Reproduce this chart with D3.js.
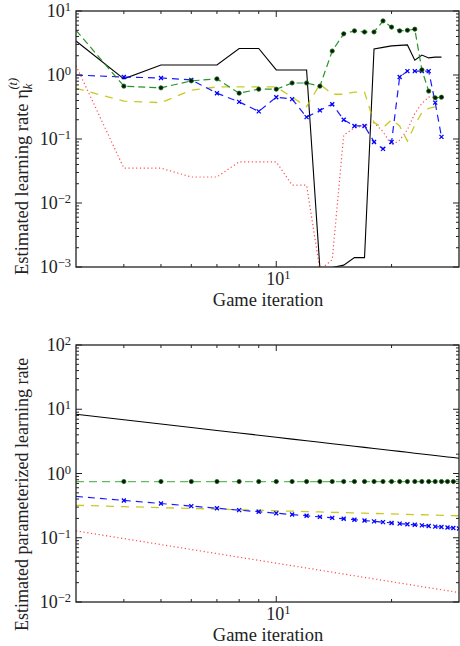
<!DOCTYPE html>
<html>
<head>
<meta charset="utf-8">
<script src="https://cdn.jsdelivr.net/npm/d3@7"></script>
<style>
  body { margin: 0; background: #fff; }
  svg { display: block; }
  text { fill: #222; }
</style>
</head>
<body>
<div id="chart"></div>
<script>
// game iterations
var iterTop = [3, 4, 5, 6, 7, 8, 9, 10, 11, 12, 13, 14, 15, 16, 17, 18, 19, 20, 21, 22, 23, 24, 25, 26, 27];
var iterBottom = [3, 4, 5, 6, 7, 8, 9, 10, 11, 12, 13, 14, 15, 16, 17, 18, 19, 20, 21, 22, 23, 24, 25, 26, 27, 28, 29, 30];

// top panel: estimated learning rate per iteration
var topBlack  = [3.4, 0.87, 1.43, 1.43, 1.43, 2.6, 2.6, 1.2, 1.2, 1.2, 0.00095, 0.00098, 0.00107, 0.0014, 0.0014, 2.55, 2.7, 2.85, 2.9, 2.95, 1.7, 2.05, 1.85, 1.9, 1.9];
var topGreen  = [5.0, 0.67, 0.63, 0.81, 0.87, 0.52, 0.60, 0.60, 0.75, 0.75, 0.67, 2.37, 4.4, 4.9, 4.7, 4.7, 7.0, 5.6, 4.9, 5.0, 5.2, 1.2, 0.56, 0.44, 0.45];
var topBlue   = [1.0, 0.93, 0.90, 0.84, 0.52, 0.38, 0.27, 0.45, 0.42, 0.22, 0.28, 0.35, 0.20, 0.16, 0.16, 0.09, 0.07, 0.09, 0.93, 1.15, 1.15, 1.15, 1.15, 0.37, 0.108];
var topYellow = [0.62, 0.39, 0.37, 0.58, 0.65, 0.65, 0.65, 0.65, 0.45, 0.32, 0.72, 0.50, 0.50, 0.54, 0.54, 0.18, 0.15, 0.20, 0.16, 0.093, 0.165, 0.26, 0.30, 0.32, 0.32];
var topRed    = [1.4, 0.035, 0.035, 0.0255, 0.0255, 0.044, 0.044, 0.044, 0.019, 0.019, 0.0009, 0.0013, 0.115, 0.15, 0.16, 0.18, 0.13, 0.08, 0.096, 0.14, 0.25, 0.36, 0.45, 0.45, 0.42];

// bottom panel: estimated parameterized learning rate
var botBlack  = [8.35, 6.86, 5.89, 5.20, 4.68, 4.27, 3.94, 3.66, 3.43, 3.24, 3.06, 2.91, 2.78, 2.66, 2.55, 2.45, 2.36, 2.28, 2.21, 2.14, 2.07, 2.01, 1.96, 1.91, 1.86, 1.81, 1.77, 1.73];
var botGreen  = [0.75, 0.75, 0.75, 0.75, 0.75, 0.75, 0.75, 0.75, 0.75, 0.75, 0.75, 0.75, 0.75, 0.75, 0.75, 0.75, 0.75, 0.75, 0.75, 0.75, 0.75, 0.75, 0.75, 0.75, 0.75, 0.75, 0.75, 0.75];
var botBlue   = [0.44, 0.381, 0.341, 0.311, 0.288, 0.269, 0.254, 0.241, 0.230, 0.220, 0.211, 0.204, 0.197, 0.191, 0.185, 0.180, 0.175, 0.170, 0.166, 0.162, 0.159, 0.156, 0.152, 0.149, 0.147, 0.144, 0.142, 0.139];
var botYellow = [0.320, 0.305, 0.294, 0.286, 0.279, 0.273, 0.268, 0.263, 0.259, 0.255, 0.252, 0.249, 0.246, 0.243, 0.241, 0.239, 0.237, 0.235, 0.233, 0.231, 0.2295, 0.228, 0.2265, 0.225, 0.2236, 0.2223, 0.221, 0.220];
var botRed    = [0.128, 0.0970, 0.0783, 0.0657, 0.0567, 0.0498, 0.0445, 0.0402, 0.0367, 0.0338, 0.0313, 0.0291, 0.0272, 0.0256, 0.0242, 0.0229, 0.0217, 0.0207, 0.0197, 0.0189, 0.0181, 0.0173, 0.0167, 0.0161, 0.0155, 0.0150, 0.0145, 0.0140];

var xTicksMinor = [4, 5, 6, 7, 8, 9, 20];
var xTicksMajor = [10];

var W = 460, H = 646;
var FONT = "'Liberation Serif', 'Times New Roman', 'DejaVu Serif', serif";
var svg = d3.select("#chart").append("svg").attr("width", W).attr("height", H)
  .attr("font-family", FONT);

var x = d3.scaleLog().domain([3, 30]).range([76, 459]);

var styles = {
  black:  { color: "#000", width: 1.1, dash: null, opacity: 1 },
  green:  { color: "#108a10", width: 1.2, dash: "7,4", opacity: 0.9 },
  lgreen: { color: "#3aa83a", width: 1.3, dash: "8,5", opacity: 0.8 },
  blue:   { color: "#0000ff", width: 1.2, dash: "7,5", opacity: 0.9 },
  yellow: { color: "#bfbf00", width: 1.3, dash: "8,7", opacity: 0.85 },
  red:    { color: "#ff0000", width: 1.2, dash: "1.2,2.6", opacity: 0.7 }
};

function drawPanel(id, yTop, yBot, yDomain, iters, series, yLabel) {
  var y = d3.scaleLog().domain(yDomain).range([yBot, yTop]);
  var g = svg.append("g");

  svg.append("clipPath").attr("id", "clip" + id)
    .append("rect").attr("x", x.range()[0]).attr("y", yTop)
    .attr("width", x.range()[1] - x.range()[0]).attr("height", yBot - yTop);

  var plot = g.append("g").attr("clip-path", "url(#clip" + id + ")");
  var line = d3.line().x(function (d) { return x(d[0]); }).y(function (d) { return y(d[1]); });

  series.forEach(function (s) {
    var st = styles[s.style];
    var pts = iters.map(function (it, i) { return [it, s.values[i]]; });
    plot.append("path").datum(pts)
      .attr("d", line)
      .attr("fill", "none")
      .attr("stroke", st.color)
      .attr("stroke-width", st.width)
      .attr("stroke-opacity", st.opacity)
      .attr("stroke-dasharray", st.dash);

    var mpts = pts.slice(1);
    if (s.bottomEnd) mpts = mpts.slice(0, mpts.length - 1);
    if (s.marker === "o") {
      plot.selectAll(null).data(mpts).enter().append("circle")
        .attr("cx", function (d) { return x(d[0]); })
        .attr("cy", function (d) { return y(d[1]); })
        .attr("r", 2.1)
        .attr("fill", "#111")
        .attr("stroke", "#0a6a0a")
        .attr("stroke-width", 0.8);
    } else if (s.marker === "x") {
      plot.selectAll(null).data(mpts).enter().append("path")
        .attr("d", function (d) {
          var cx = x(d[0]), cy = y(d[1]), r = 2;
          return "M" + (cx - r) + "," + (cy - r) + "L" + (cx + r) + "," + (cy + r) +
                 "M" + (cx - r) + "," + (cy + r) + "L" + (cx + r) + "," + (cy - r);
        })
        .attr("stroke", "#0000ff")
        .attr("stroke-width", 1.3)
        .attr("fill", "none");
    }
  });

  // frame
  var x0 = x.range()[0], x1 = x.range()[1];
  g.append("rect").attr("x", x0).attr("y", yTop)
    .attr("width", x1 - x0).attr("height", yBot - yTop)
    .attr("fill", "none").attr("stroke", "#222").attr("stroke-width", 1.3);

  // y ticks, both sides, inward
  var lo = Math.round(Math.log10(yDomain[0])), hi = Math.round(Math.log10(yDomain[1]));
  for (var e = lo; e <= hi; e++) {
    var yy = y(Math.pow(10, e));
    g.append("line").attr("x1", x0).attr("x2", x0 + 6).attr("y1", yy).attr("y2", yy).attr("stroke", "#222");
    g.append("line").attr("x1", x1).attr("x2", x1 - 6).attr("y1", yy).attr("y2", yy).attr("stroke", "#222");
    var t = g.append("text").attr("x", 71).attr("y", yy + 6).attr("text-anchor", "end").attr("font-size", 18);
    t.append("tspan").text("10");
    t.append("tspan").attr("dy", -6).attr("font-size", 12.5).text(e < 0 ? "\u2212" + (-e) : e);
    if (e < hi) {
      for (var m = 2; m <= 9; m++) {
        var ym = y(m * Math.pow(10, e));
        g.append("line").attr("x1", x0).attr("x2", x0 + 3).attr("y1", ym).attr("y2", ym).attr("stroke", "#222");
        g.append("line").attr("x1", x1).attr("x2", x1 - 3).attr("y1", ym).attr("y2", ym).attr("stroke", "#222");
      }
    }
  }

  // x ticks, top and bottom, inward
  xTicksMinor.forEach(function (v) {
    var xx = x(v);
    g.append("line").attr("x1", xx).attr("x2", xx).attr("y1", yBot).attr("y2", yBot - 3).attr("stroke", "#222");
    g.append("line").attr("x1", xx).attr("x2", xx).attr("y1", yTop).attr("y2", yTop + 3).attr("stroke", "#222");
  });
  xTicksMajor.forEach(function (v) {
    var xx = x(v);
    g.append("line").attr("x1", xx).attr("x2", xx).attr("y1", yBot).attr("y2", yBot - 6).attr("stroke", "#222");
    g.append("line").attr("x1", xx).attr("x2", xx).attr("y1", yTop).attr("y2", yTop + 6).attr("stroke", "#222");
    var t = g.append("text").attr("x", xx - 10).attr("y", yBot + 18).attr("font-size", 18);
    t.append("tspan").text("10");
    t.append("tspan").attr("dy", -6).attr("font-size", 12.5).text("1");
  });

  g.append("text").attr("x", (x0 + x1) / 2 + 0.5).attr("y", yBot + 39)
    .attr("text-anchor", "middle").attr("font-size", 18.5).text("Game iteration");

  yLabel(g);
}

drawPanel("a", 11, 267, [1e-3, 1e1], iterTop, [
  { values: topBlack, style: "black" },
  { values: topRed, style: "red" },
  { values: topYellow, style: "yellow" },
  { values: topBlue, style: "blue", marker: "x" },
  { values: topGreen, style: "green", marker: "o" }
], function (g) {
  var t = g.append("text").attr("transform", "translate(28,275) rotate(-90)")
    .attr("font-size", 18.5);
  t.append("tspan").text("Estimated learning rate \u03b7");
  t.append("tspan").attr("dy", 4).attr("font-size", 12.5).attr("font-style", "italic").text("k");
  t.append("tspan").attr("dx", -6).attr("dy", -15).attr("font-size", 12.5).attr("font-style", "italic").text("(t)");
});

drawPanel("b", 345, 602, [1e-2, 1e2], iterBottom, [
  { values: botBlack, style: "black" },
  { values: botRed, style: "red" },
  { values: botYellow, style: "yellow" },
  { values: botBlue, style: "blue", marker: "x" },
  { values: botGreen, style: "lgreen", marker: "o", bottomEnd: true }
], function (g) {
  g.append("text").attr("transform", "translate(28,631) rotate(-90)")
    .attr("font-size", 18).text("Estimated parameterized learning rate");
});
</script>
</body>
</html>
